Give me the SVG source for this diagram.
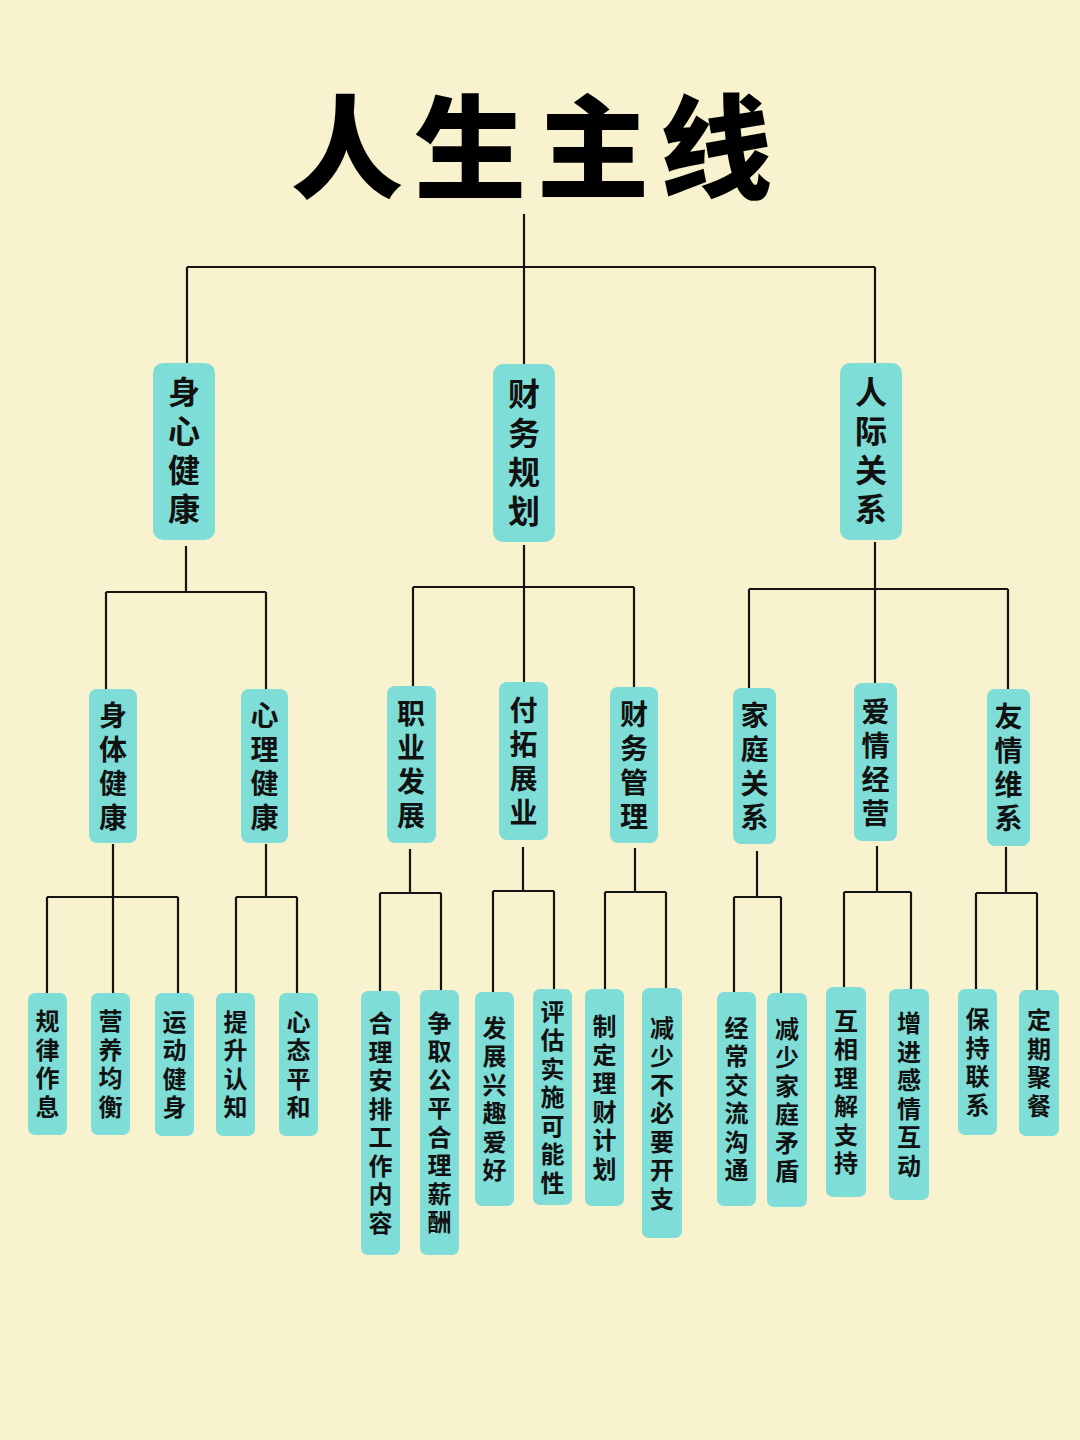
<svg xmlns="http://www.w3.org/2000/svg" width="1080" height="1440" viewBox="0 0 1080 1440">
<style>
.bg{fill:#F8F2CF}
.box{fill:#7EDDD6}
.t{font-family:"Noto Sans CJK SC","Noto Sans",sans-serif;font-weight:700;fill:#111;text-anchor:middle;writing-mode:vertical-rl}
.l1{font-size:32px;letter-spacing:7px}
.l2{font-size:28px;letter-spacing:6px}
.l3{font-size:24px;letter-spacing:4.5px}
.title{font-family:"Noto Sans CJK SC","Noto Sans",sans-serif;font-weight:900;font-size:112px;fill:#000;text-anchor:middle;dominant-baseline:central;letter-spacing:11px}
.c{fill:none;stroke:#141414;stroke-width:2.2}
</style>
<rect class="bg" x="0" y="0" width="1080" height="1440"/>
<g id="title"><text class="title" x="537" y="141">人生主线</text></g>
<g id="connectors">
<path class="c" d="M524 214V364M187 267H875M187 267V363M875 267V363"/>
<path class="c" d="M186 546V592M106 592H266M106 592V689M266 592V689"/>
<path class="c" d="M524 545V682M413 587H634M413 587V686M634 587V687"/>
<path class="c" d="M875 542V683M749 589H1008M749 589V688M1008 589V689"/>
<path class="c" d="M113 844V993M47 897H178M47 897V993M178 897V993"/>
<path class="c" d="M266 844V897M236 897H297M236 897V993M297 897V993"/>
<path class="c" d="M410 849V893M380 893H441M380 893V991M441 893V990"/>
<path class="c" d="M523 847V891M493 891H554M493 891V992M554 891V989"/>
<path class="c" d="M635 848V892M605 892H666M605 892V989M666 892V988"/>
<path class="c" d="M757 851V897M734 897H781M734 897V992M781 897V993"/>
<path class="c" d="M877 846V892M844 892H911M844 892V987M911 892V989"/>
<path class="c" d="M1006 847V893M976 893H1037M976 893V989M1037 893V990"/>
</g>
<g id="n-shenxin"><rect class="box" x="153" y="363" width="62" height="177" rx="10"/><text class="t l1" x="184" y="454">身心健康</text></g>
<g id="n-caiwu"><rect class="box" x="493" y="364" width="62" height="178" rx="10"/><text class="t l1" x="524" y="456">财务规划</text></g>
<g id="n-renji"><rect class="box" x="840" y="363" width="62" height="177" rx="10"/><text class="t l1" x="871" y="454">人际关系</text></g>

<g id="n-shenti"><rect class="box" x="89" y="689" width="48" height="154" rx="8"/><text class="t l2" x="113" y="769">身体健康</text></g>
<g id="n-xinli"><rect class="box" x="241" y="689" width="47" height="154" rx="8"/><text class="t l2" x="264.5" y="769">心理健康</text></g>
<g id="n-zhiye"><rect class="box" x="387" y="686" width="49" height="157" rx="8"/><text class="t l2" x="411" y="767.5">职业发展</text></g>
<g id="n-futuo"><rect class="box" x="499" y="682" width="49" height="158" rx="8"/><text class="t l2" x="523.5" y="764">付拓展业</text></g>
<g id="n-caiwuguanli"><rect class="box" x="610" y="687" width="48" height="156" rx="8"/><text class="t l2" x="634" y="768">财务管理</text></g>
<g id="n-jiating"><rect class="box" x="733" y="688" width="43" height="156" rx="8"/><text class="t l2" x="754.5" y="769">家庭关系</text></g>
<g id="n-aiqing"><rect class="box" x="854" y="683" width="43" height="158" rx="8"/><text class="t l2" x="875.5" y="765">爱情经营</text></g>
<g id="n-youqing"><rect class="box" x="987" y="689" width="43" height="157" rx="8"/><text class="t l2" x="1008.5" y="770.5">友情维系</text></g>

<g id="n-guilv"><rect class="box" x="28" y="993" width="39" height="142" rx="7"/><text class="t l3" x="47.5" y="1066.25">规律作息</text></g>
<g id="n-yingyang"><rect class="box" x="91" y="993" width="39" height="142" rx="7"/><text class="t l3" x="110.5" y="1066.25">营养均衡</text></g>
<g id="n-yundong"><rect class="box" x="155" y="993" width="39" height="143" rx="7"/><text class="t l3" x="174.5" y="1066.75">运动健身</text></g>
<g id="n-tisheng"><rect class="box" x="216" y="993" width="39" height="143" rx="7"/><text class="t l3" x="235.5" y="1066.75">提升认知</text></g>
<g id="n-xintai"><rect class="box" x="279" y="993" width="39" height="143" rx="7"/><text class="t l3" x="298.5" y="1066.75">心态平和</text></g>
<g id="n-heli"><rect class="box" x="361" y="991" width="39" height="264" rx="7"/><text class="t l3" x="380.5" y="1125.25">合理安排工作内容</text></g>
<g id="n-zhengqu"><rect class="box" x="420" y="990" width="39" height="265" rx="7"/><text class="t l3" x="439.5" y="1124.75">争取公平合理薪酬</text></g>
<g id="n-fazhan"><rect class="box" x="475" y="992" width="39" height="214" rx="7"/><text class="t l3" x="494.5" y="1101.25">发展兴趣爱好</text></g>
<g id="n-pinggu"><rect class="box" x="533" y="989" width="39" height="216" rx="7"/><text class="t l3" x="552.5" y="1099.25">评估实施可能性</text></g>
<g id="n-zhiding"><rect class="box" x="585" y="989" width="39" height="217" rx="7"/><text class="t l3" x="604.5" y="1099.75">制定理财计划</text></g>
<g id="n-jianshao"><rect class="box" x="642" y="988" width="40" height="250" rx="7"/><text class="t l3" x="662" y="1115.25">减少不必要开支</text></g>
<g id="n-jingchang"><rect class="box" x="717" y="992" width="39" height="214" rx="7"/><text class="t l3" x="736.5" y="1101.25">经常交流沟通</text></g>
<g id="n-jianshaojt"><rect class="box" x="767" y="993" width="40" height="214" rx="7"/><text class="t l3" x="787" y="1102.25">减少家庭矛盾</text></g>
<g id="n-huxiang"><rect class="box" x="826" y="987" width="40" height="210" rx="7"/><text class="t l3" x="846" y="1094.25">互相理解支持</text></g>
<g id="n-zengjin"><rect class="box" x="889" y="989" width="40" height="211" rx="7"/><text class="t l3" x="909" y="1096.75">增进感情互动</text></g>
<g id="n-baochi"><rect class="box" x="958" y="989" width="39" height="146" rx="7"/><text class="t l3" x="977.5" y="1064.25">保持联系</text></g>
<g id="n-dingqi"><rect class="box" x="1019" y="990" width="40" height="146" rx="7"/><text class="t l3" x="1039" y="1065.25">定期聚餐</text></g>
</svg>
